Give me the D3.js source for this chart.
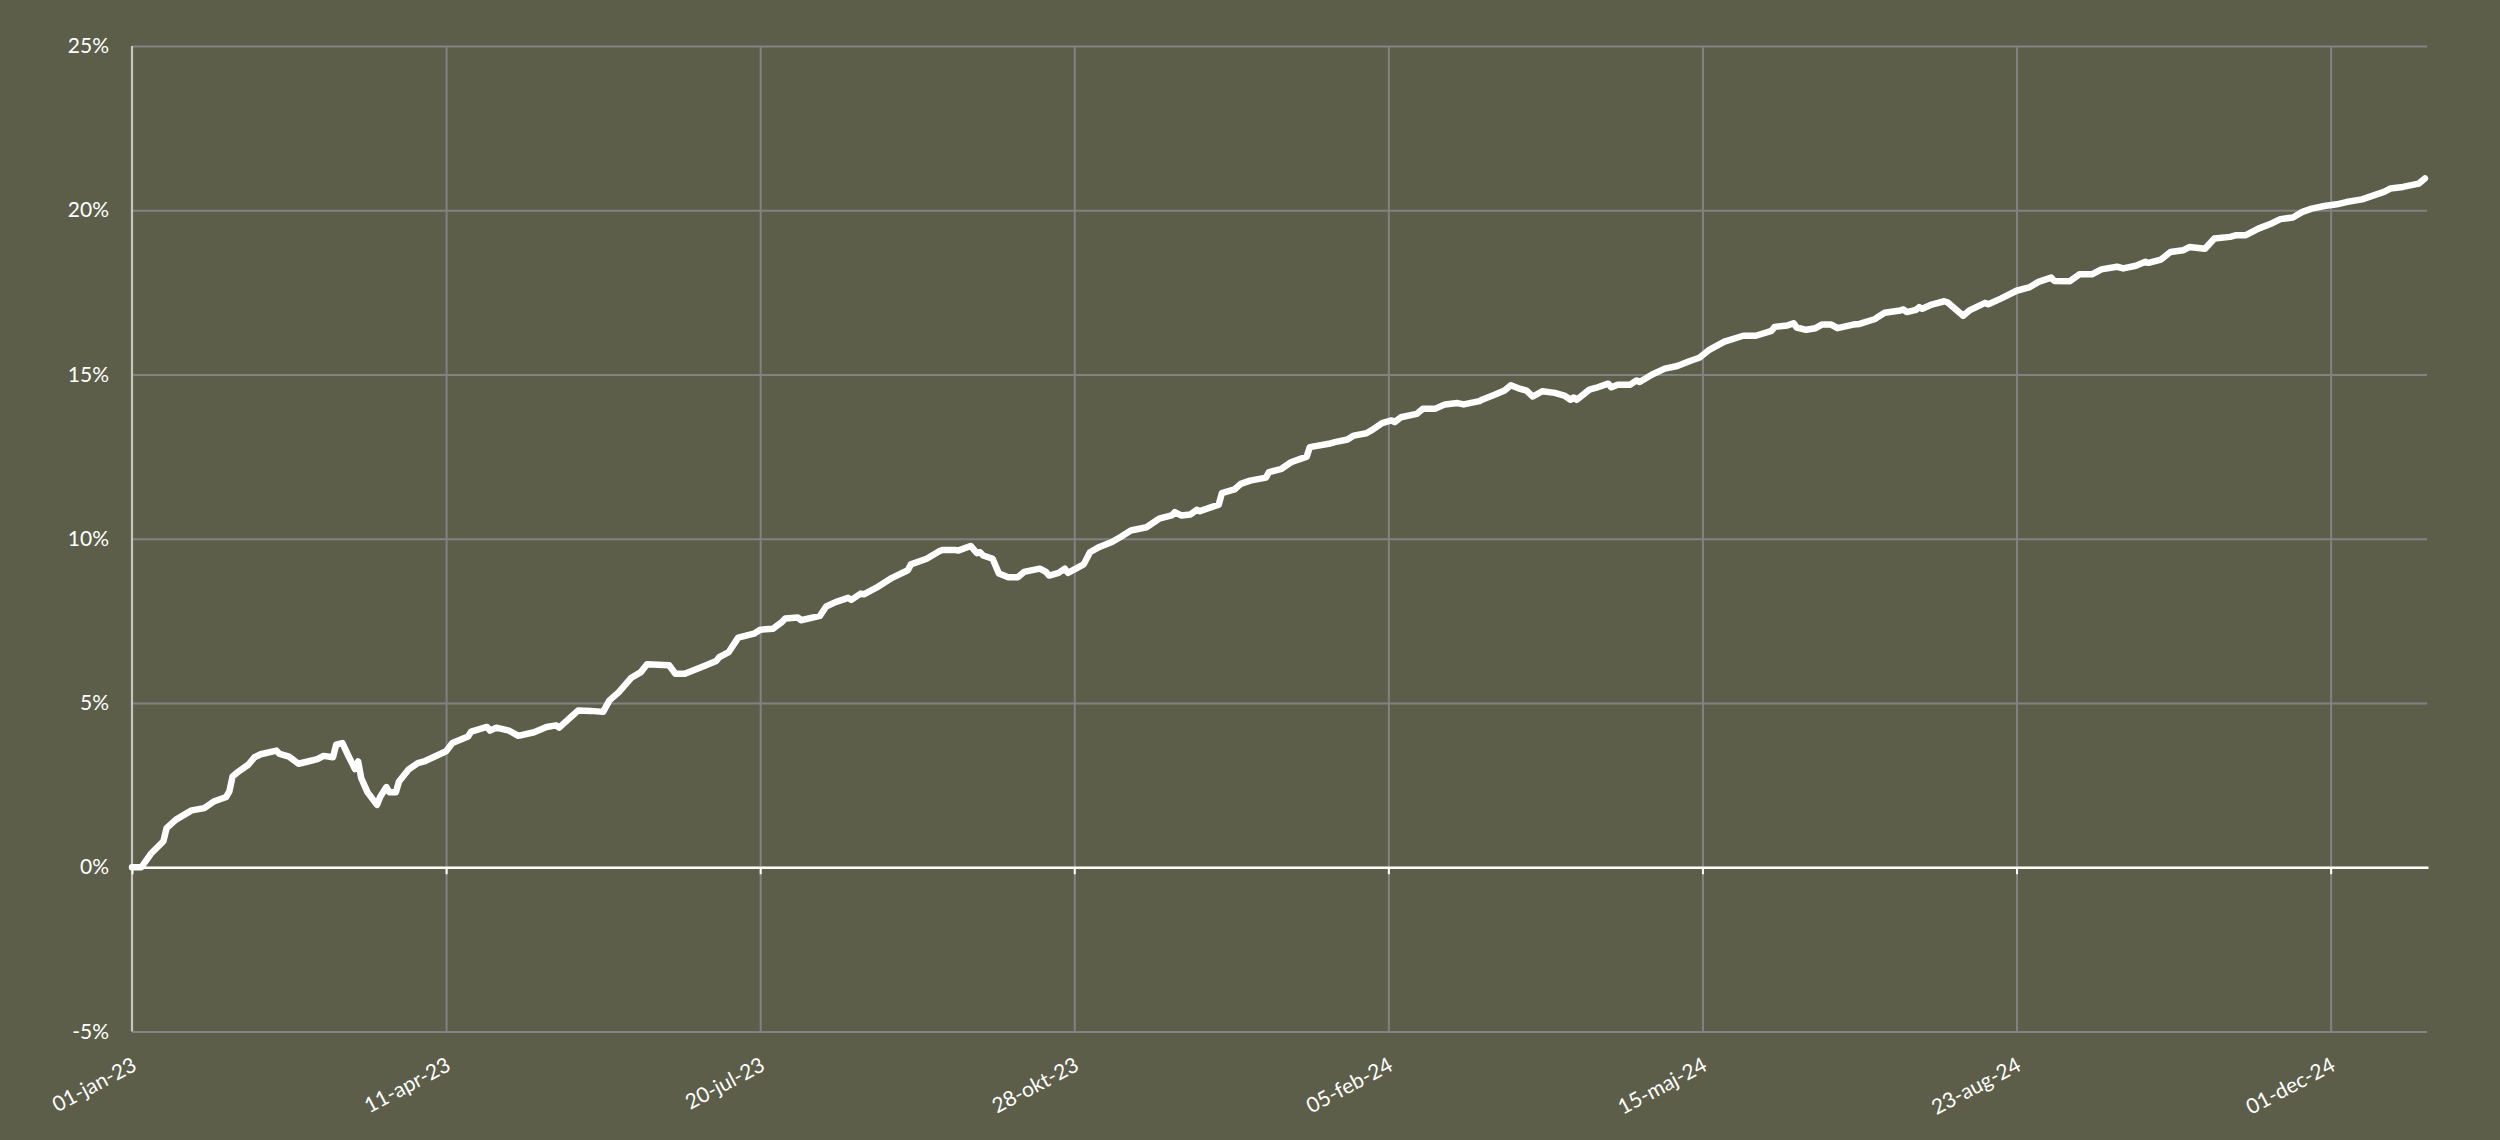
<!DOCTYPE html>
<html>
<head>
<meta charset="utf-8">
<script src="https://cdn.jsdelivr.net/npm/d3@7/dist/d3.min.js"></script>
<style>
  html, body { margin: 0; padding: 0; background: #5c5e4a; }
  svg { display: block; }
</style>
</head>
<body>
<svg id="chart" width="2500" height="1140"></svg>
<script>
// ---------- DATA ----------
const dates = [
"2023-01-01","2023-01-04","2023-01-07","2023-01-11","2023-01-12","2023-01-15","2023-01-20","2023-01-24","2023-01-27","2023-01-31",
"2023-02-01","2023-02-02","2023-02-04","2023-02-07","2023-02-09","2023-02-11","2023-02-16","2023-02-17","2023-02-20","2023-02-23",
"2023-02-26","2023-03-01","2023-03-03","2023-03-06","2023-03-07","2023-03-09","2023-03-11","2023-03-13","2023-03-14","2023-03-15",
"2023-03-17","2023-03-20","2023-03-21","2023-03-23","2023-03-24","2023-03-26","2023-03-27","2023-03-30","2023-04-02","2023-04-04",
"2023-04-11","2023-04-13","2023-04-18","2023-04-19","2023-04-24","2023-04-25","2023-04-27","2023-05-01","2023-05-04","2023-05-09",
"2023-05-13","2023-05-16","2023-05-17","2023-05-23","2023-05-27","2023-05-31","2023-06-02","2023-06-05","2023-06-09","2023-06-12",
"2023-06-14","2023-06-21","2023-06-23","2023-06-26","2023-07-02","2023-07-06","2023-07-07","2023-07-10","2023-07-13","2023-07-18",
"2023-07-20","2023-07-24","2023-07-27","2023-07-28","2023-08-01","2023-08-02","2023-08-08","2023-08-10","2023-08-13","2023-08-17",
"2023-08-18","2023-08-21","2023-08-22","2023-08-26","2023-08-31","2023-09-05","2023-09-06","2023-09-11","2023-09-15","2023-09-16",
"2023-09-20","2023-09-21","2023-09-25","2023-09-27","2023-09-28","2023-09-29","2023-10-02","2023-10-04","2023-10-07","2023-10-10",
"2023-10-12","2023-10-17","2023-10-19","2023-10-20","2023-10-23","2023-10-25","2023-10-26","2023-10-31","2023-11-02","2023-11-05",
"2023-11-09","2023-11-12","2023-11-15","2023-11-20","2023-11-24","2023-11-28","2023-11-29","2023-12-01","2023-12-04","2023-12-06",
"2023-12-07","2023-12-13","2023-12-14","2023-12-18","2023-12-20","2023-12-23","2023-12-28","2023-12-29","2024-01-02","2024-01-05",
"2024-01-08","2024-01-10","2024-01-11","2024-01-17","2024-01-19","2024-01-23","2024-01-25","2024-01-29","2024-01-31","2024-02-03",
"2024-02-06","2024-02-07","2024-02-09","2024-02-14","2024-02-16","2024-02-20","2024-02-23","2024-02-27","2024-02-29","2024-03-05",
"2024-03-06","2024-03-10","2024-03-13","2024-03-15","2024-03-18","2024-03-20","2024-03-22","2024-03-25","2024-03-29","2024-04-01",
"2024-04-03","2024-04-04","2024-04-05","2024-04-09","2024-04-11","2024-04-15","2024-04-16","2024-04-18","2024-04-22","2024-04-24",
"2024-04-25","2024-04-29","2024-05-03","2024-05-07","2024-05-11","2024-05-14","2024-05-17","2024-05-22","2024-05-28","2024-06-01",
"2024-06-06","2024-06-07","2024-06-11","2024-06-13","2024-06-14","2024-06-17","2024-06-20","2024-06-22","2024-06-25","2024-06-27",
"2024-07-02","2024-07-04","2024-07-09","2024-07-10","2024-07-12","2024-07-17","2024-07-18","2024-07-19","2024-07-22","2024-07-23",
"2024-07-24","2024-07-27","2024-07-31","2024-08-01","2024-08-06","2024-08-08","2024-08-13","2024-08-14","2024-08-18","2024-08-23",
"2024-08-27","2024-08-30","2024-09-03","2024-09-04","2024-09-09","2024-09-12","2024-09-16","2024-09-19","2024-09-24","2024-09-26",
"2024-09-30","2024-10-03","2024-10-04","2024-10-08","2024-10-11","2024-10-15","2024-10-17","2024-10-22","2024-10-25","2024-10-30",
"2024-11-01","2024-11-04","2024-11-08","2024-11-12","2024-11-15","2024-11-19","2024-11-22","2024-11-25","2024-11-29","2024-12-03",
"2024-12-06","2024-12-11","2024-12-14","2024-12-18","2024-12-20","2024-12-24","2024-12-29","2024-12-31"
];

const returnsPct = [
0.00,0.00,0.41,0.79,1.19,1.45,1.73,1.80,2.00,2.14,
2.31,2.76,2.92,3.12,3.35,3.44,3.55,3.45,3.37,3.15,
3.22,3.29,3.39,3.35,3.73,3.78,3.37,2.99,3.22,2.71,
2.28,1.90,2.14,2.44,2.28,2.28,2.61,2.97,3.17,3.22,
3.53,3.78,3.98,4.13,4.27,4.16,4.25,4.16,4.00,4.11,
4.27,4.32,4.25,4.77,4.76,4.73,5.08,5.33,5.77,5.94,
6.18,6.15,5.89,5.89,6.12,6.28,6.40,6.55,6.99,7.11,
7.23,7.26,7.47,7.57,7.60,7.52,7.65,7.94,8.07,8.20,
8.14,8.33,8.31,8.51,8.81,9.04,9.22,9.39,9.62,9.66,
9.66,9.64,9.78,9.56,9.59,9.49,9.39,8.94,8.83,8.83,
8.99,9.09,8.99,8.88,8.96,9.09,8.96,9.22,9.59,9.75,
9.90,10.07,10.25,10.35,10.61,10.71,10.81,10.71,10.74,10.88,
10.84,11.04,11.39,11.50,11.67,11.77,11.86,12.03,12.13,12.33,
12.43,12.50,12.79,12.89,12.94,13.02,13.14,13.21,13.32,13.52,
13.60,13.55,13.70,13.80,13.96,13.96,14.09,14.13,14.09,14.19,
14.24,14.39,14.51,14.67,14.56,14.51,14.33,14.49,14.44,14.36,
14.23,14.30,14.23,14.54,14.59,14.72,14.61,14.69,14.69,14.82,
14.77,15.00,15.18,15.26,15.41,15.51,15.74,16.00,16.18,16.18,
16.33,16.45,16.49,16.56,16.43,16.36,16.41,16.52,16.52,16.41,
16.52,16.54,16.69,16.76,16.88,16.95,16.98,16.90,16.97,17.05,
17.00,17.13,17.23,17.20,16.79,16.95,17.18,17.14,17.31,17.55,
17.65,17.82,17.95,17.85,17.84,18.05,18.05,18.20,18.28,18.23,
18.31,18.43,18.40,18.50,18.73,18.78,18.88,18.83,19.14,19.19,
19.24,19.24,19.44,19.59,19.73,19.78,19.95,20.05,20.13,20.18,
20.25,20.33,20.43,20.56,20.66,20.71,20.81,20.97
];

const xTickDates = ["2023-01-01","2023-04-11","2023-07-20","2023-10-28","2024-02-05","2024-05-15","2024-08-23","2024-12-01"];
const monthNames = ["jan","feb","mar","apr","maj","jun","jul","aug","sep","okt","nov","dec"];
const yTicks = [-5, 0, 5, 10, 15, 20, 25];
const xDomain = ["2023-01-01", "2025-01-01"];

// ---------- CHART ----------
(function () {
  const parse = d3.utcParse("%Y-%m-%d");
  const data = dates.map((d, i) => ({ date: parse(d), value: returnsPct[i] }));
  const tickVals = xTickDates.map(parse);

  const W = 2500, H = 1140;
  const pL = 132, pR = 2428, pT = 46, pB = 1031.5;

  const svg = d3.select("#chart");
  svg.append("rect").attr("width", W).attr("height", H).attr("fill", "#5c5e4a");

  const x = d3.scaleUtc().domain(xDomain.map(parse)).range([pL, pR]);
  const y = d3.scaleLinear().domain([-5, 25]).range([pB, pT]);

  const fmtDate = d => {
    const dd = String(d.getUTCDate()).padStart(2, "0");
    const mm = monthNames[d.getUTCMonth()];
    const yy = String(d.getUTCFullYear()).slice(2);
    return `${dd}-${mm}-${yy}`;
  };

  const GRID = "#828282";
  const FONT = "Lato, 'Open Sans', sans-serif";

  // horizontal gridlines
  const yGrid = svg.append("g")
    .attr("transform", `translate(${pL},0)`)
    .call(d3.axisLeft(y).tickValues(yTicks).tickSize(-(pR - 1 - pL)).tickFormat(""));
  yGrid.select(".domain").remove();
  yGrid.selectAll("line").attr("stroke", GRID).attr("stroke-width", 2);

  // vertical gridlines
  const xGrid = svg.append("g")
    .attr("transform", `translate(0,${pB})`)
    .call(d3.axisBottom(x).tickValues(tickVals.slice(1)).tickSize(-(pB - pT)).tickFormat(""));
  xGrid.select(".domain").remove();
  xGrid.selectAll("line").attr("stroke", GRID).attr("stroke-width", 2);

  // y labels
  const yAxis = svg.append("g")
    .attr("transform", `translate(${pL},0)`)
    .call(d3.axisLeft(y).tickValues(yTicks).tickSize(0).tickPadding(23).tickFormat(d => d + "%"));
  yAxis.select(".domain").remove();
  yAxis.selectAll("text")
    .attr("fill", "#ffffff")
    .style("font-family", FONT)
    .style("font-size", "21px");

  // left axis line
  svg.append("line")
    .attr("x1", pL).attr("x2", pL)
    .attr("y1", pT).attr("y2", pB)
    .attr("stroke", "#c4c4c4").attr("stroke-width", 2.2);

  // x axis along 0%
  const xAxis = svg.append("g")
    .attr("transform", `translate(0,${y(0)})`)
    .call(d3.axisBottom(x).tickValues(tickVals).tickSize(7).tickSizeOuter(0).tickFormat(""));
  xAxis.select(".domain").attr("stroke", "#ffffff").attr("stroke-width", 2.5);
  xAxis.selectAll("line").attr("stroke", "#ffffff").attr("stroke-width", 2);

  // x labels (rotated, below plot)
  svg.append("g").selectAll("text")
    .data(tickVals)
    .join("text")
    .attr("transform", d => `translate(${x(d) + 6},${pB + 38}) rotate(-28)`)
    .attr("text-anchor", "end")
    .attr("fill", "#ffffff")
    .style("font-family", FONT)
    .style("font-size", "21px")
    .text(fmtDate);

  // series line
  const line = d3.line()
    .x(d => x(d.date))
    .y(d => y(d.value));

  svg.append("path")
    .datum(data)
    .attr("d", line)
    .attr("fill", "none")
    .attr("stroke", "#ffffff")
    .attr("stroke-width", 6.5)
    .attr("stroke-linejoin", "round")
    .attr("stroke-linecap", "round");
})();
</script>
</body>
</html>
